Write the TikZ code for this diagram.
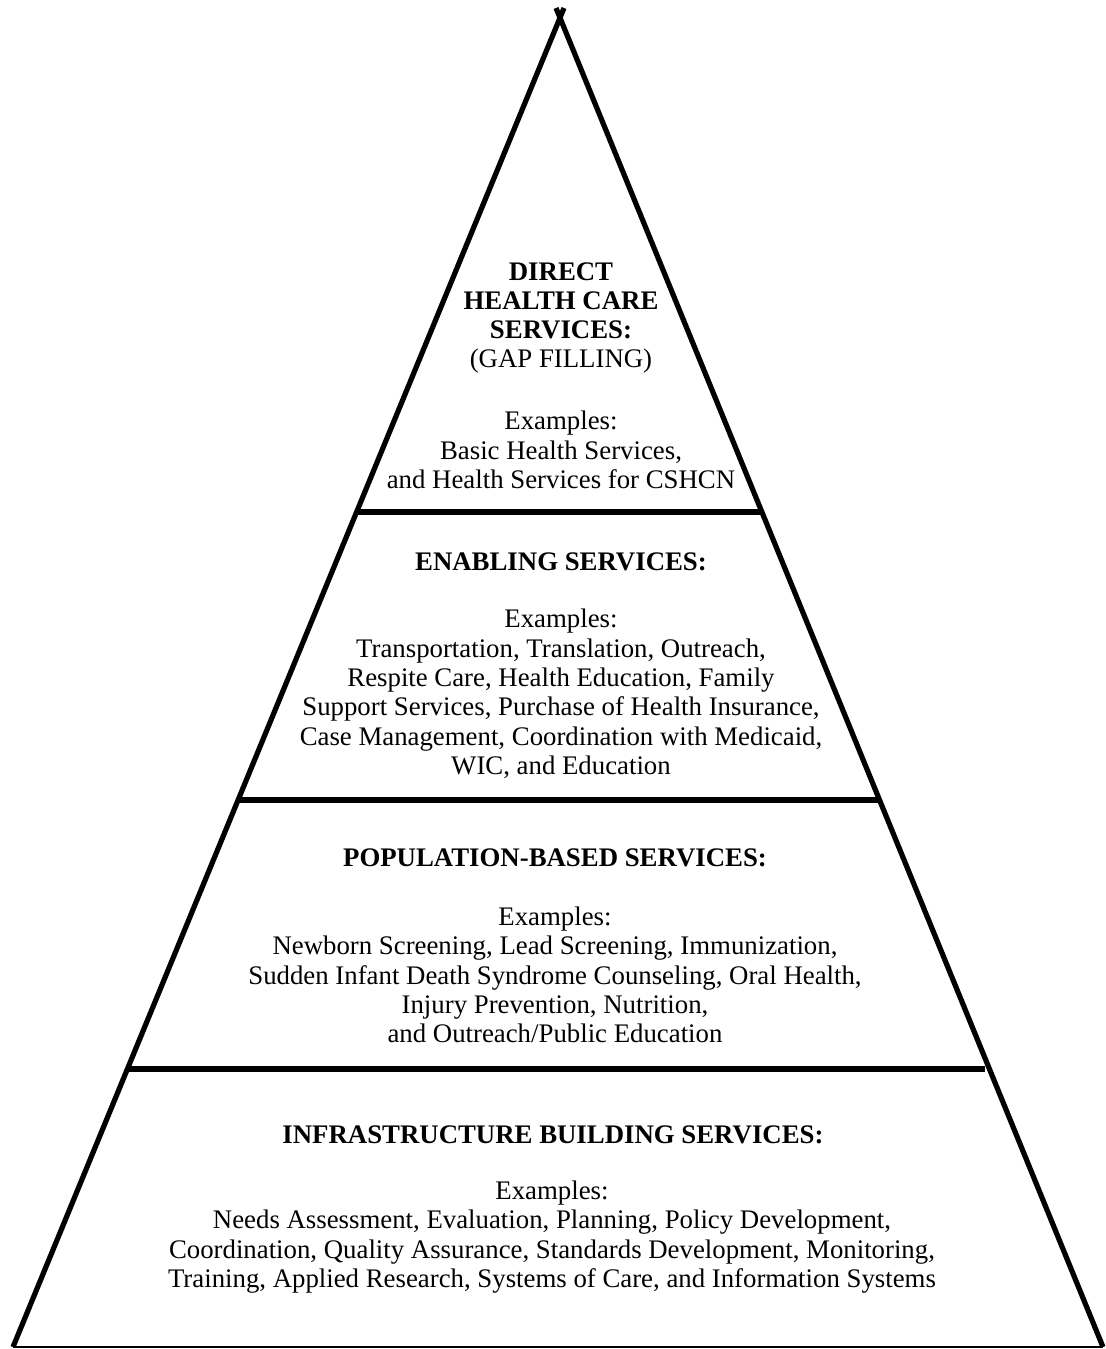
\documentclass[tikz,border=0pt]{standalone}
\usepackage{fontspec}
\setmainfont{Liberation Serif}
\usetikzlibrary{positioning}
\tikzset{
	side/.style={line width=2.6pt},
	shelf/.style={line width=2.8pt},
	ground/.style={line width=1pt},
	title/.style={align=center, inner sep=0pt, font=\fontsize{13.4}{14.65}\selectfont\bfseries},
	examples/.style={align=center, inner sep=0pt, font=\fontsize{13.4}{14.65}\selectfont}
}
\begin{document}
\begin{tikzpicture}[x=0.5pt, y=-0.5pt]
	\useasboundingbox (0,0) rectangle (1106,1349);

% contorno
	\coordinate (bl) at (13,1347);
	\coordinate (br) at (1103,1347);
	\coordinate (tl) at (564,8);
	\coordinate (tr) at (556,8);
	\draw[side] (bl) -- (tl);
	\draw[side] (br) -- (tr);
	\draw[ground] (bl) -- (br);

% niveles
	\foreach \y/\a/\b [count=\i] in {512/357/762, 800/240/880, 1069/126/985} {
		\coordinate (l\i) at (\a,\y);
		\coordinate (r\i) at (\b,\y);
		\draw[shelf] (l\i) -- (r\i);
	}

% textos
	\node[title] (direct) at (561,318) {DIRECT\\HEALTH CARE\\SERVICES:\\{\mdseries (GAP FILLING)}};
	\node[examples] (directex) at (561,450) {Examples:\\Basic Health Services,\\and Health Services for CSHCN};

	\node[title] (enabling) at (561,562) {ENABLING SERVICES:};
	\node[examples] (enablingex) at (561,694) {Examples:\\Transportation, Translation, Outreach,\\Respite Care, Health Education, Family\\Support Services, Purchase of Health Insurance,\\Case Management, Coordination with Medicaid,\\WIC, and Education};

	\node[title] (population) at (555,858) {POPULATION-BASED SERVICES:};
	\node[examples] (populationex) at (555,975) {Examples:\\Newborn Screening, Lead Screening, Immunization,\\Sudden Infant Death Syndrome Counseling, Oral Health,\\Injury Prevention, Nutrition,\\and Outreach/Public Education};

	\node[title] (infra) at (553,1135) {INFRASTRUCTURE BUILDING SERVICES:};
	\node[examples] (infraex) at (552,1237) {Examples:\\Needs Assessment, Evaluation, Planning, Policy Development,\\Coordination, Quality Assurance, Standards Development, Monitoring,\\Training, Applied Research, Systems of Care, and Information Systems};
\end{tikzpicture}
\end{document}
